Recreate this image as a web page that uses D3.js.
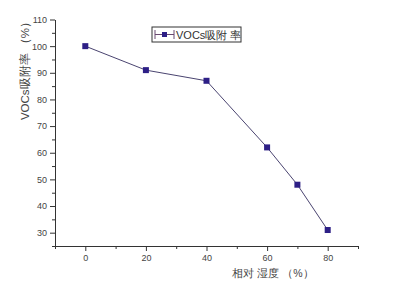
<!DOCTYPE html>
<html>
<head>
<meta charset="utf-8">
<script src="https://cdn.jsdelivr.net/npm/d3@7"></script>
<style>
  body { margin: 0; background: #fff; }
  text { font-family: "Liberation Sans", Arial, sans-serif; }
</style>
</head>
<body>
<svg width="395" height="283"></svg>
<script>
var humidity = [0, 20, 40, 60, 70, 80];
var adsorption = [100, 91, 87, 62, 48, 31];
var xTicks = [0, 20, 40, 60, 80];
var yTicks = [30, 40, 50, 60, 70, 80, 90, 100, 110];

var svg = d3.select("svg");

var x = d3.scaleLinear().domain([-10, 90]).range([55, 358]);
var y = d3.scaleLinear().domain([25, 110]).range([246, 19.5]);

// minor ticks
svg.append("g")
  .attr("transform", "translate(0,246)")
  .call(d3.axisBottom(x).tickValues([-10, 10, 30, 50, 70, 90]).tickSize(3).tickFormat(""))
  .call(g => g.select(".domain").remove());
svg.append("g")
  .attr("transform", "translate(55,0)")
  .call(d3.axisLeft(y).tickValues([25, 35, 45, 55, 65, 75, 85, 95, 105]).tickSize(3).tickFormat(""))
  .call(g => g.select(".domain").remove());

svg.append("g")
  .attr("transform", "translate(0,246)")
  .call(d3.axisBottom(x).tickValues(xTicks).tickSize(5).tickSizeOuter(0).tickPadding(4));

svg.append("g")
  .attr("transform", "translate(55,0)")
  .call(d3.axisLeft(y).tickValues(yTicks).tickSize(5).tickSizeOuter(0).tickPadding(3));

svg.selectAll(".domain, .tick line").attr("stroke", "#333");
svg.selectAll(".tick text")
  .attr("fill", "#444")
  .style("font-size", "9px");

// line + markers
var line = d3.line()
  .x((d, i) => x(humidity[i]))
  .y(d => y(d));

svg.append("path")
  .datum(adsorption)
  .attr("fill", "none")
  .attr("stroke", "#4a4470")
  .attr("stroke-width", 1)
  .attr("d", line);

svg.selectAll("rect.pt")
  .data(adsorption)
  .enter()
  .append("rect")
  .attr("class", "pt")
  .attr("x", (d, i) => x(humidity[i]) - 3)
  .attr("y", d => y(d) - 3)
  .attr("width", 6)
  .attr("height", 6)
  .attr("fill", "#2d1f86");

// legend
var lg = svg.append("g").attr("transform", "translate(152,27)");
lg.append("rect")
  .attr("width", 89).attr("height", 15)
  .attr("fill", "#fff").attr("stroke", "#333");
lg.append("line")
  .attr("x1", 3).attr("x2", 22).attr("y1", 7.5).attr("y2", 7.5)
  .attr("stroke", "#6a4a70");
lg.append("line")
  .attr("x1", 3).attr("x2", 3).attr("y1", 3).attr("y2", 12)
  .attr("stroke", "#6a4a70");
lg.append("line")
  .attr("x1", 22).attr("x2", 22).attr("y1", 3).attr("y2", 12)
  .attr("stroke", "#6a4a70");
lg.append("rect")
  .attr("x", 10).attr("y", 5).attr("width", 5).attr("height", 5)
  .attr("fill", "#2d1f86");
lg.append("text")
  .attr("x", 24).attr("y", 11.5)
  .attr("fill", "#333")
  .style("font-size", "11px")
  .text("VOCs吸附 率");

// axis titles
svg.append("text")
  .attr("transform", "translate(29,68) rotate(-90)")
  .attr("text-anchor", "middle")
  .attr("fill", "#444")
  .style("font-size", "11.5px")
  .text("VOCs吸附率 （%）");

svg.append("text")
  .attr("x", 273).attr("y", 277)
  .attr("text-anchor", "middle")
  .attr("fill", "#444")
  .style("font-size", "10.5px")
  .text("相对 湿度 （%）");
</script>
</body>
</html>
